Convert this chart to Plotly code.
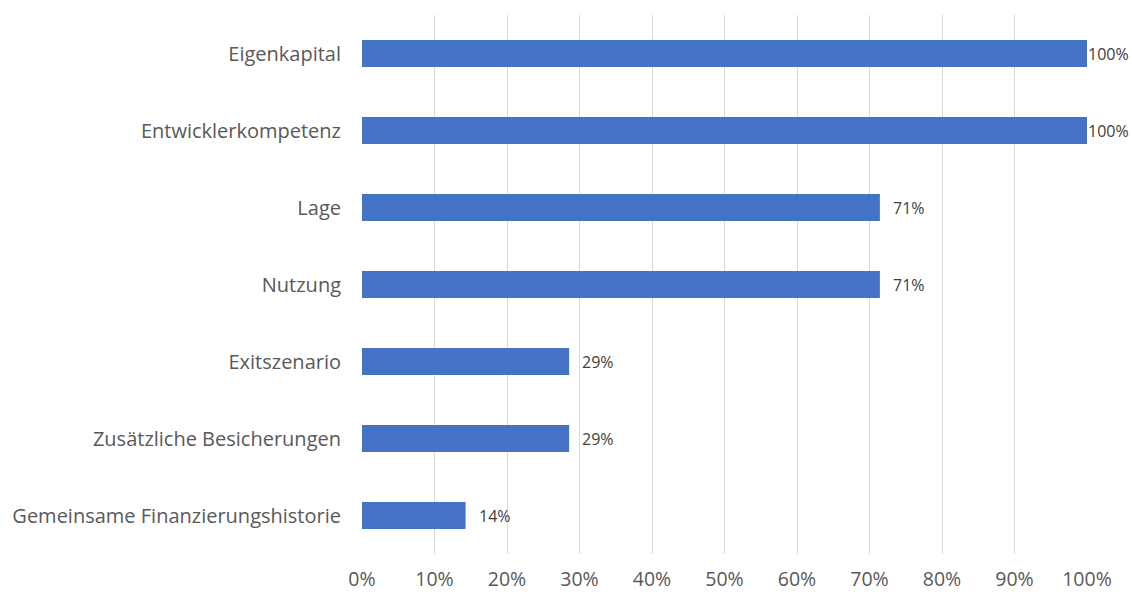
import plotly.graph_objects as go

# Criteria and share of respondents naming each one
categories = [
    "Eigenkapital",
    "Entwicklerkompetenz",
    "Lage",
    "Nutzung",
    "Exitszenario",
    "Zusätzliche Besicherungen",
    "Gemeinsame Finanzierungshistorie",
]
shares = [1.0, 1.0, 5 / 7, 5 / 7, 2 / 7, 2 / 7, 1 / 7]
tick_values = [i / 10 for i in range(11)]
tick_labels = [f"{i * 10}%" for i in range(11)]

BAR_COLOR = "#4472C4"
TEXT_COLOR = "#595959"
FONT = "Open Sans, Segoe UI, sans-serif"

fig = go.Figure(
    go.Bar(
        x=shares,
        y=categories,
        orientation="h",
        marker=dict(color=BAR_COLOR, line=dict(width=0)),
        hovertemplate="%{y}: %{x:.0%}<extra></extra>",
    )
)

# Value labels placed just right of each bar end
for cat, val in zip(categories, shares):
    fig.add_annotation(
        x=val,
        y=cat,
        text=f"{val:.0%}",
        showarrow=False,
        xanchor="left",
        yanchor="middle",
        xshift=-1 if val >= 1 else 11,
        font=dict(family=FONT, size=16, color="#404040"),
    )

fig.update_layout(
    width=1132,
    height=595,
    margin=dict(l=362, r=45, t=15, b=41),
    paper_bgcolor="white",
    plot_bgcolor="white",
    bargap=0.65,
    showlegend=False,
    font=dict(family=FONT, color=TEXT_COLOR),
)

fig.update_xaxes(
    range=[0, 1],
    tickvals=tick_values,
    ticktext=tick_labels,
    showgrid=True,
    gridcolor="#D9D9D9",
    gridwidth=1,
    zeroline=False,
    showline=False,
    ticks="",
    automargin=False,
    ticklabelstandoff=11,
    tickfont=dict(family=FONT, size=19.5, color=TEXT_COLOR),
)

fig.update_yaxes(
    autorange="reversed",
    showgrid=False,
    zeroline=False,
    showline=False,
    ticks="",
    automargin=False,
    ticklabelstandoff=20,
    tickfont=dict(family=FONT, size=20, color=TEXT_COLOR),
)

fig.write_html("out.html")
